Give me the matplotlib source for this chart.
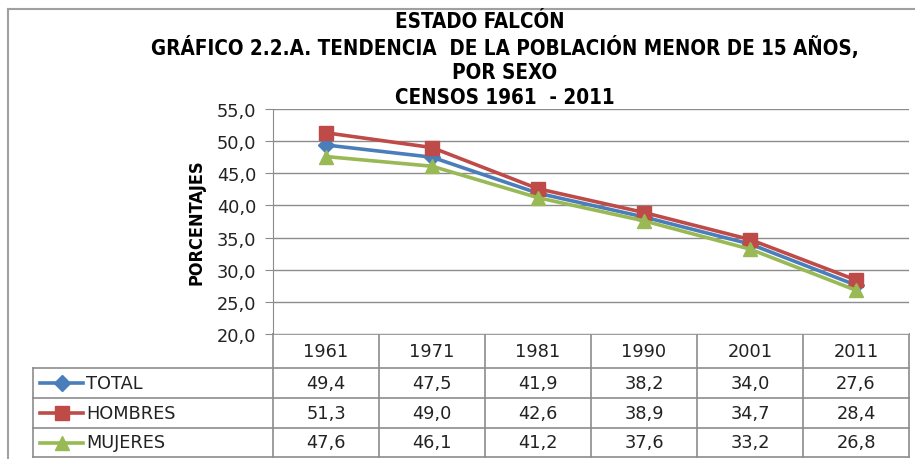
import matplotlib
matplotlib.use("Agg")
import matplotlib.pyplot as plt

years = ["1961", "1971", "1981", "1990", "2001", "2011"]
series_names = ["TOTAL", "HOMBRES", "MUJERES"]
total = [49.4, 47.5, 41.9, 38.2, 34.0, 27.6]
hombres = [51.3, 49.0, 42.6, 38.9, 34.7, 28.4]
mujeres = [47.6, 46.1, 41.2, 37.6, 33.2, 26.8]
y_ticks = [20, 25, 30, 35, 40, 45, 50, 55]
title_lines = ["ESTADO FALCÓN",
               "GRÁFICO 2.2.A. TENDENCIA  DE LA POBLACIÓN MENOR DE 15 AÑOS,",
               "POR SEXO",
               "CENSOS 1961  - 2011"]

series = [total, hombres, mujeres]
colors = ["#4A7EBB", "#BE4B48", "#98B954"]
markers = ["D", "s", "^"]
msizes = [8, 10, 10]

W, H = 915, 460
fig = plt.figure(figsize=(W / 100, H / 100), dpi=100)
FONT = "DejaVu Sans"
STRETCH = "condensed"
BODY = 12.8

# overlay axes in pixel coordinates for frame/table
ov = fig.add_axes([0, 0, 1, 1])
ov.set_xlim(0, W)
ov.set_ylim(H, 0)
ov.axis("off")
gray = "#8C8C8C"
ov.plot([8, 8], [10, H], color="#A0A0A0", lw=1.5)
ov.plot([8, W], [10, 10], color="#A0A0A0", lw=1.5)

# plot area
x0, x1, ytop, ybot = 273, 909, 110, 335
ax = fig.add_axes([x0 / W, 1 - ybot / H, (x1 - x0) / W, (ybot - ytop) / H])
xs = list(range(len(years)))
for vals, c, m, ms in zip(series, colors, markers, msizes):
    ax.plot(xs, vals, color=c, lw=2.6, marker=m, markersize=ms,
            markerfacecolor=c, markeredgecolor=c, zorder=3)
ax.set_xlim(-0.5, len(years) - 0.5)
ax.set_ylim(20, 55)
ax.set_yticks(y_ticks)
ax.set_yticklabels([f"{v:.1f}".replace(".", ",") for v in y_ticks],
                   fontsize=BODY, family=FONT, color="#222222")
ax.set_xticks([])
ax.yaxis.grid(True, color=gray, lw=1)
ax.set_axisbelow(True)
for s in ["top", "right", "bottom"]:
    ax.spines[s].set_visible(False)
ax.spines["left"].set_color(gray)
ax.tick_params(axis="y", length=6, color=gray, pad=6)
ax.set_ylabel("PORCENTAJES", fontsize=13, fontweight="bold", family=FONT,
              fontstretch=STRETCH, labelpad=8)

# title
title_y = [22, 48, 73, 98]
title_x = [480, 505, 505, 505]
for t, tx, ty in zip(title_lines, title_x, title_y):
    ov.text(tx, ty, t, ha="center", va="center", fontsize=14.8,
            fontweight="bold", family=FONT, fontstretch=STRETCH)

# data table
col_w = (x1 - x0) / len(years)
row_lines = [335, 369, 399, 429, 458]
tl = 33
ov.plot([x0, x1], [row_lines[0], row_lines[0]], color=gray, lw=1.2)
for ry in row_lines[1:]:
    ov.plot([tl, x1], [ry, ry], color=gray, lw=1.2)
for i in range(len(years) + 1):
    xv = x0 + i * col_w
    ov.plot([xv, xv], [row_lines[0], row_lines[-1]], color=gray, lw=1.2)
ov.plot([tl, tl], [row_lines[1], row_lines[-1]], color=gray, lw=1.2)

hdr_y = (row_lines[0] + row_lines[1]) / 2
for i, yr in enumerate(years):
    ov.text(x0 + (i + 0.5) * col_w, hdr_y, yr, ha="center", va="center",
            fontsize=BODY, family=FONT, color="#222222")
for r, (name, vals, c, m, ms) in enumerate(zip(series_names, series, colors,
                                                markers, msizes)):
    cy = (row_lines[r + 1] + row_lines[r + 2]) / 2
    ov.plot([40, 83], [cy, cy], color=c, lw=2.6)
    ov.plot([61.5], [cy], marker=m, color=c, markersize=ms)
    ov.text(86, cy, name, ha="left", va="center", fontsize=BODY, family=FONT,
            color="#222222")
    for i, v in enumerate(vals):
        ov.text(x0 + (i + 0.5) * col_w, cy, f"{v:.1f}".replace(".", ","),
                ha="center", va="center", fontsize=BODY, family=FONT,
                color="#222222")

fig.savefig("out.png", dpi=100)
